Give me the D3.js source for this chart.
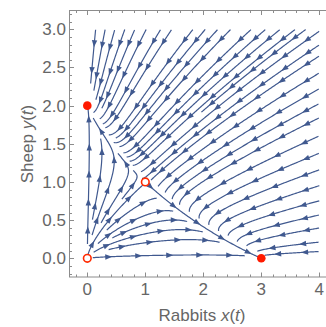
<!DOCTYPE html>
<html><head><meta charset="utf-8">
<script src="https://cdn.jsdelivr.net/npm/d3@7"></script>
<style>body{margin:0;background:#fff}svg{display:block}text{font-family:"Liberation Sans",Arial,sans-serif}</style>
</head><body><svg id="c" width="326" height="327"></svg>
<script>
// ---- data ----
const xTicks = [0, 1, 2, 3, 4];
const xTickLabels = ["0", "1", "2", "3", "4"];
const yTicks = [0, 0.5, 1, 1.5, 2, 2.5, 3];
const yTickLabels = ["0.0", "0.5", "1.0", "1.5", "2.0", "2.5", "3.0"];
// competition model coefficients: x' = x(a - b x - c y), y' = y(d - e x - f y)
const rabbitCoef = [3, 1, 2];
const sheepCoef = [2, 1, 1];
// equilibria
const eqX = [0, 1, 0, 3];
const eqY = [0, 1, 2, 0];
const eqStable = [false, false, true, true];
const streamXRange = [0, 4];
const streamYRange = [0, 3];

// ---- layout ----
const svg = d3.select("#c");
const xs = d3.scaleLinear().domain([0, 4]).range([87.3, 319.3]);
const ys = d3.scaleLinear().domain([0, 3]).range([258.3, 29.3]);
const frame = {l: 69.5, t: 10.5, r: 330, b: 277};
const gray = "#8c8c8c", labelGray = "#666";
const streamColor = "#40598f";

// frame
svg.append("rect").attr("x", frame.l).attr("y", frame.t)
  .attr("width", frame.r - frame.l).attr("height", frame.b - frame.t)
  .attr("fill", "none").attr("stroke", gray).attr("stroke-width", 1);

// ticks
const xMinor = d3.range(-0.2, 4.41, 0.2).map(v => +v.toFixed(2));
const yMinor = d3.range(-0.2, 3.21, 0.1).map(v => +v.toFixed(2));
const tk = svg.append("g").attr("stroke", gray).attr("stroke-width", 1);
xMinor.forEach(v => {
  const major = xTicks.includes(v), L = major ? 4.5 : 2.5, X = Math.round(xs(v)) + 0.5;
  tk.append("line").attr("x1", X).attr("x2", X).attr("y1", frame.b).attr("y2", frame.b - L);
  tk.append("line").attr("x1", X).attr("x2", X).attr("y1", frame.t).attr("y2", frame.t + L);
});
yMinor.forEach(v => {
  const major = yTicks.some(t => Math.abs(t - v) < 1e-6), L = major ? 4.5 : 2.5, Y = Math.round(ys(v)) + 0.5;
  tk.append("line").attr("y1", Y).attr("y2", Y).attr("x1", frame.l).attr("x2", frame.l + L);
});
const fs = 17;
xTicks.forEach((v, i) => {
  svg.append("text").attr("x", xs(v)).attr("y", 295).attr("text-anchor", "middle")
    .attr("font-size", fs).attr("fill", labelGray).text(xTickLabels[i]);
});
yTicks.forEach((v, i) => {
  svg.append("text").attr("x", 66).attr("y", ys(v) + 6).attr("text-anchor", "end")
    .attr("font-size", fs).attr("fill", labelGray).text(yTickLabels[i]);
});
// axis labels
const xl = svg.append("text").attr("x", 202).attr("y", 321).attr("text-anchor", "middle")
  .attr("font-size", fs).attr("fill", labelGray);
xl.append("tspan").text("Rabbits ");
xl.append("tspan").attr("font-style", "italic").text("x");
xl.append("tspan").text("(");
xl.append("tspan").attr("font-style", "italic").text("t");
xl.append("tspan").text(")");
const yl = svg.append("text").attr("transform", "translate(33,144) rotate(-90)").attr("text-anchor", "middle")
  .attr("font-size", fs).attr("fill", labelGray);
yl.append("tspan").text("Sheep ");
yl.append("tspan").attr("font-style", "italic").text("y");
yl.append("tspan").text("(");
yl.append("tspan").attr("font-style", "italic").text("t");
yl.append("tspan").text(")");

// ---- stream lines (evenly spaced, pixel space) ----
const [a, b, c] = rabbitCoef, [d, e, f] = sheepCoef;
const sx = xs(1) - xs(0), sy = ys(0) - ys(1);
const pxMin = xs(streamXRange[0]), pxMax = xs(streamXRange[1]);
const pyMin = ys(streamYRange[1]), pyMax = ys(streamYRange[0]);
function dir(p) {
  const x = xs.invert(p[0]), y = ys.invert(p[1]);
  const u = x * (a - b * x - c * y) * sx, v = -y * (d - e * x - f * y) * sy;
  const m = Math.hypot(u, v);
  if (m < 1e-9) return null;
  return [u / m, v / m];
}
const inside = p => p[0] >= pxMin - 0.01 && p[0] <= pxMax + 0.01 && p[1] >= pyMin - 0.01 && p[1] <= pyMax + 0.01;
const dsep = 9.2, dtest = 4.4, cell = dsep;
const grid = new Map();
const key = (i, j) => i + "," + j;
function addPts(pts) {
  pts.forEach(p => {
    const k = key(Math.floor(p[0] / cell), Math.floor(p[1] / cell));
    if (!grid.has(k)) grid.set(k, []);
    grid.get(k).push(p);
  });
}
function minDist(p, r) {
  const i0 = Math.floor(p[0] / cell), j0 = Math.floor(p[1] / cell);
  const n = Math.ceil(r / cell);
  let best = Infinity;
  for (let i = i0 - n; i <= i0 + n; i++) for (let j = j0 - n; j <= j0 + n; j++) {
    const arr = grid.get(key(i, j)); if (!arr) continue;
    for (const q of arr) { const dd = Math.hypot(p[0] - q[0], p[1] - q[1]); if (dd < best) best = dd; }
  }
  return best;
}
function trace(p0, sign) {
  const pts = [];
  let p = p0, prev = null;
  for (let s = 0; s < 3000; s++) {
    const d1 = dir(p); if (!d1) break;
    const mid = [p[0] + sign * 0.5 * d1[0], p[1] + sign * 0.5 * d1[1]];
    const d2 = dir(mid); if (!d2) break;
    if (prev && d2[0] * prev[0] + d2[1] * prev[1] < 0.6) break;
    const np = [p[0] + sign * d2[0], p[1] + sign * d2[1]];
    if (!inside(np)) break;
    if (minDist(np, dtest) < dtest) break;
    pts.push(np); p = np; prev = d2;
  }
  return pts;
}
const lines = [];
function makeLine(seed) {
  if (!inside(seed) || minDist(seed, dsep) < dsep * 0.95) return null;
  const fwd = trace(seed, 1), bwd = trace(seed, -1);
  const pts = bwd.reverse().concat([seed], fwd);
  if (pts.length < 10) return null;
  addPts(pts);
  lines.push(pts);
  return pts;
}
const queue = [];
function pushNeighbors(pts) {
  for (let i = 0; i < pts.length; i += 3) {
    const p = pts[i], dd = dir(p); if (!dd) continue;
    queue.push([p[0] - dd[1] * dsep, p[1] + dd[0] * dsep]);
    queue.push([p[0] + dd[1] * dsep, p[1] - dd[0] * dsep]);
  }
}
// initial seeds: unstable manifold of the saddle, then the remaining field
const initSeeds = [[xs(1.03), ys(1 - 0.03 * 0.707)], [xs(0.97), ys(1 + 0.03 * 0.707)]];
initSeeds.forEach(s => { const l = makeLine(s); if (l) pushNeighbors(l); });
function drain() {
  while (queue.length) { const s = queue.shift(); const l = makeLine(s); if (l) pushNeighbors(l); }
}
drain();
for (let gx = pxMin + 3; gx <= pxMax; gx += dsep / 2) for (let gy = pyMin + 3; gy <= pyMax; gy += dsep / 2) {
  queue.push([gx, gy]); drain();
}

// draw
const gS = svg.append("g");
const lineGen = d3.line();
lines.forEach(pts => {
  gS.append("path").attr("d", lineGen(pts)).attr("fill", "none")
    .attr("stroke", streamColor).attr("stroke-width", 1.2).attr("stroke-linejoin", "round");
  // arrows
  const cum = [0];
  for (let i = 1; i < pts.length; i++) cum.push(cum[i - 1] + Math.hypot(pts[i][0] - pts[i - 1][0], pts[i][1] - pts[i - 1][1]));
  const L = cum[cum.length - 1];
  const spacing = 29;
  const n = Math.max(1, Math.round(L / spacing));
  for (let k = 0; k < n; k++) {
    const s = (k + 0.5) * L / n;
    let i = d3.bisectLeft(cum, s); i = Math.min(Math.max(i, 1), pts.length - 1);
    const p = pts[i];
    const j0 = Math.max(0, i - 2), j1 = Math.min(pts.length - 1, i + 2);
    let tx = pts[j1][0] - pts[j0][0], ty = pts[j1][1] - pts[j0][1];
    const m = Math.hypot(tx, ty) || 1; tx /= m; ty /= m;
    const tip = [p[0] + tx * 3.5, p[1] + ty * 3.5];
    const bx = p[0] - tx * 3.5, by = p[1] - ty * 3.5;
    const w = 2.7;
    gS.append("path").attr("d", `M${tip[0]},${tip[1]}L${bx - ty * w},${by + tx * w}L${bx + ty * w},${by - tx * w}Z`)
      .attr("fill", streamColor);
  }
});

// equilibria
eqX.forEach((v, i) => {
  const cx = xs(v), cy = ys(eqY[i]);
  if (eqStable[i]) svg.append("circle").attr("cx", cx).attr("cy", cy).attr("r", 4.3).attr("fill", "#ff1a00");
  else svg.append("circle").attr("cx", cx).attr("cy", cy).attr("r", 3.8).attr("fill", "#fff")
    .attr("stroke", "#ff2a00").attr("stroke-width", 1.6);
});
</script></body></html>
